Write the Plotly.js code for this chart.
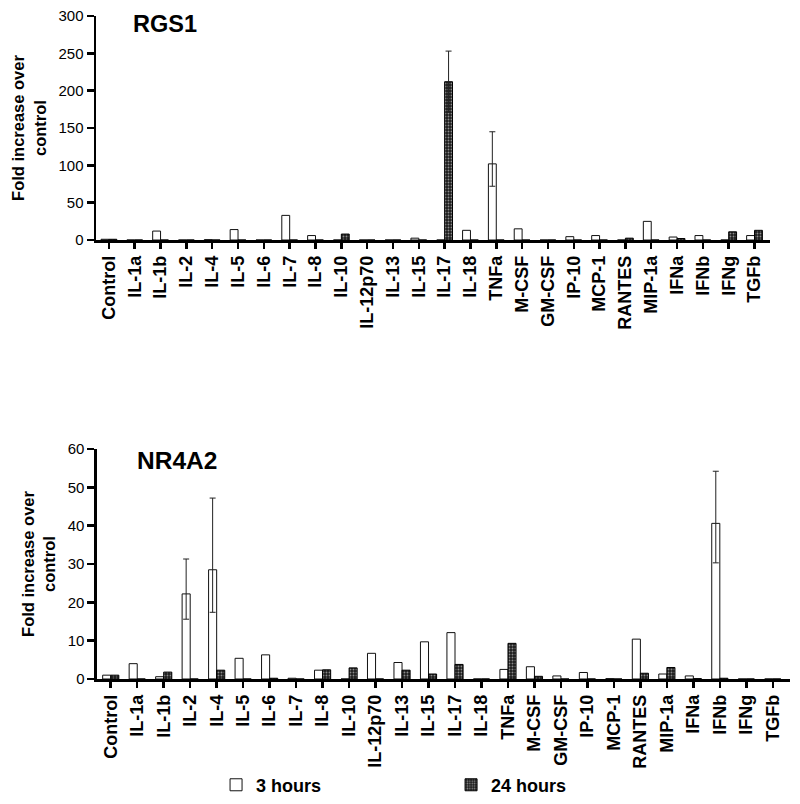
<!DOCTYPE html>
<html><head><meta charset="utf-8">
<script src="https://cdn.plot.ly/plotly-3.0.1.min.js"></script>
<style>html,body{margin:0;padding:0;background:#fff}#chart{width:800px;height:804px}</style>
</head><body><div id="chart"></div>
<script>
const categories = ['Control','IL-1a','IL-1b','IL-2','IL-4','IL-5','IL-6','IL-7','IL-8','IL-10','IL-12p70','IL-13','IL-15','IL-17','IL-18','TNFa','M-CSF','GM-CSF','IP-10','MCP-1','RANTES','MIP-1a','IFNa','IFNb','IFNg','TGFb'];

// RGS1
const rgs1_3h  = [1, 0, 12, 0, 0.5, 14, 0, 33, 6, 0, 0, 0, 2.5, 0, 13, 102, 15, 0, 4.5, 6, 0, 25, 4, 6, 0, 6];
const rgs1_24h = [1, 0, 0, 0, 0, 0, 0, 0, 0, 8, 0, 0, 0, 212, 0, 0, 0, 0, 0, 0, 2.5, 0, 2, 0, 11, 13];
const rgs1_3h_errPlus   = [null,null,null,null,null,null,null,null,null,null,null,null,null,null,null,43,null,null,null,null,null,null,null,null,null,null];
const rgs1_3h_errMinus  = [null,null,null,null,null,null,null,null,null,null,null,null,null,null,null,30,null,null,null,null,null,null,null,null,null,null];
const rgs1_24h_errPlus  = [null,null,null,null,null,null,null,null,null,null,null,null,null,41,null,null,null,null,null,null,null,null,null,null,null,null];
const rgs1_24h_errMinus = [null,null,null,null,null,null,null,null,null,null,null,null,null,41,null,null,null,null,null,null,null,null,null,null,null,null];

// NR4A2
const nr4a2_3h  = [1, 4, 0.6, 22.2, 28.5, 5.4, 6.3, 0.2, 2.3, 0, 6.7, 4.3, 9.7, 12.1, 0, 2.5, 3.2, 0.8, 1.7, 0.1, 10.4, 1.3, 0.8, 40.6, 0, 0];
const nr4a2_24h = [1, 0, 1.8, 0, 2.3, 0, 0.2, 0, 2.4, 2.9, 0, 2.3, 1.3, 3.8, 0, 9.3, 0.7, 0, 0, 0, 1.5, 3.0, 0.1, 0.2, 0, 0];
const nr4a2_3h_errPlus  = [null,null,null,9.1,18.7,null,null,null,null,null,null,null,null,null,null,null,null,null,null,null,null,null,null,13.6,null,null];
const nr4a2_3h_errMinus = [null,null,null,6.6,11.1,null,null,null,null,null,null,null,null,null,null,null,null,null,null,null,null,null,null,10.3,null,null];

const seriesNames = ['3 hours', '24 hours'];
const panelTitles = ['RGS1', 'NR4A2'];
const yTitle = 'Fold increase over<br>control';

const FONT = 'Liberation Sans, Arial, Helvetica, sans-serif';
const nanify = a => a.map(v => (v === null ? NaN : v));

const whiteMarker = {color: '#ffffff', line: {color: '#111', width: 1}};
const darkMarker = {color: '#1c1c1c', line: {color: '#000', width: 1},
  pattern: {shape: '.', fgcolor: '#8c8c8c', bgcolor: '#1c1c1c', size: 3, solidity: 0.3}};

function errObj(plus, minus) {
  return {type: 'data', symmetric: false, array: nanify(plus), arrayminus: nanify(minus),
          color: '#222', thickness: 1, width: 3, visible: true};
}

const traces = [
  {type: 'bar', x: categories, y: rgs1_3h, name: seriesNames[0], legendgroup: 'a', xaxis: 'x', yaxis: 'y',
   marker: whiteMarker, error_y: errObj(rgs1_3h_errPlus, rgs1_3h_errMinus), hoverinfo: 'x+y'},
  {type: 'bar', x: categories, y: rgs1_24h, name: seriesNames[1], legendgroup: 'b', xaxis: 'x', yaxis: 'y',
   marker: darkMarker, error_y: errObj(rgs1_24h_errPlus, rgs1_24h_errMinus), hoverinfo: 'x+y'},
  {type: 'bar', x: categories, y: nr4a2_3h, name: seriesNames[0], legendgroup: 'a', showlegend: false, xaxis: 'x2', yaxis: 'y2',
   marker: whiteMarker, error_y: errObj(nr4a2_3h_errPlus, nr4a2_3h_errMinus), hoverinfo: 'x+y'},
  {type: 'bar', x: categories, y: nr4a2_24h, name: seriesNames[1], legendgroup: 'b', showlegend: false, xaxis: 'x2', yaxis: 'y2',
   marker: darkMarker, hoverinfo: 'x+y'}
];

const xCommon = {type: 'category', tickangle: -90, ticks: 'outside', ticklen: 6, tickwidth: 2.5, tickcolor: '#000',
  showline: true, linecolor: '#000', linewidth: 2.5, showgrid: false, zeroline: false, automargin: false,
  tickfont: {family: FONT, size: 18, weight: 700, color: '#000'}};
const yCommon = {ticks: 'outside', ticklen: 7, tickwidth: 2.5, tickcolor: '#000',
  showline: true, linecolor: '#000', linewidth: 2.5, showgrid: false, zeroline: false, automargin: false,
  tickfont: {family: FONT, size: 15, color: '#000'},
  title: {text: yTitle, font: {family: FONT, size: 16.5, weight: 700, color: '#000'}, standoff: 8}};

const layout = {
  width: 800, height: 804,
  margin: {l: 96, r: 10, t: 16, b: 125, autoexpand: false},
  paper_bgcolor: '#fff', plot_bgcolor: '#fff',
  barmode: 'group', bargap: 0.39, bargroupgap: 0,
  font: {family: FONT, color: '#000'},
  xaxis: Object.assign({}, xCommon, {domain: [0, 0.9712], anchor: 'y', range: [-0.5, 25.6]}),
  yaxis: Object.assign({}, yCommon, {domain: [0.6621, 1], anchor: 'x', range: [0, 300], dtick: 50}),
  xaxis2: Object.assign({}, xCommon, {domain: [0.0014, 1], anchor: 'y2', range: [-0.52, 25.65]}),
  yaxis2: Object.assign({}, yCommon, {domain: [0, 0.3469], anchor: 'x2', range: [0, 60], dtick: 10}),
  showlegend: true,
  legend: {orientation: 'h', x: 0.173, xanchor: 'left', y: -0.16, yanchor: 'middle',
    font: {family: FONT, size: 18, weight: 700, color: '#000'}, entrywidth: 190, entrywidthmode: 'pixels',
    bgcolor: 'rgba(0,0,0,0)', traceorder: 'normal'},
  annotations: [
    {text: panelTitles[0], xref: 'x domain', yref: 'y domain', x: 0.0515, y: 0.963, xanchor: 'left', yanchor: 'middle',
     showarrow: false, font: {family: FONT, size: 23.5, weight: 700, color: '#000'}},
    {text: panelTitles[1], xref: 'x2 domain', yref: 'y2 domain', x: 0.0548, y: 0.948, xanchor: 'left', yanchor: 'middle',
     showarrow: false, font: {family: FONT, size: 24.5, weight: 700, color: '#000'}}
  ]
};

Plotly.newPlot('chart', traces, layout, {displayModeBar: false, staticPlot: true});
</script>
</body></html>
